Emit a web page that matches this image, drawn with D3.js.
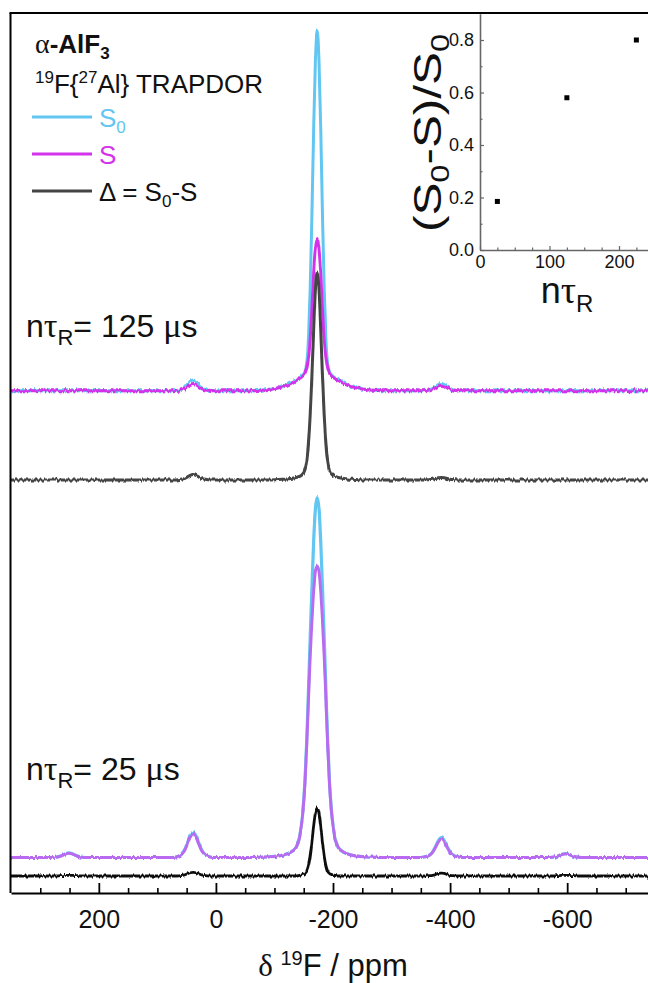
<!DOCTYPE html>
<html><head><meta charset="utf-8">
<script src="https://cdn.jsdelivr.net/npm/d3@7"></script>
<style>
body{margin:0;background:#fff}
svg{display:block}
text{font-family:"Liberation Sans",Arial,sans-serif;fill:#111}
</style>
</head><body>
<svg id="c" width="648" height="983"></svg>
<script>
// ---------------- data ----------------
// chemical shift grid, ppm
const ppm = [350,300,
 287,279,272,266,261,256,251,246,241,236,230,223,215,
 150,
 75,67,60,54,49,44,39,34,29,24,18,11,3,
 -40,
 -63,-93,-115,-128,-137,-143,-148,-152,-155,-158,-161,-164,-167,-170,-173,-176,-179,-182,-185,-188,-191,-194,-198,-203,-209,-218,-231,-253,-283,
 -320,
 -349,-357,-364,-370,-375,-380,-385,-390,-395,-400,-406,-413,-421,
 -500,
 -561,-569,-576,-582,-587,-592,-597,-602,-607,-612,-618,-625,-633,
 -700,-750];

// n·tauR = 125 us  (intensity, S0 peak = 1)
const s0_125 = [0,0,
 0,0,0,0,0,0,0,0,0,0,0,0,0,
 0,
 0,.001,.003,.008,.017,.026,.03,.026,.017,.008,.003,.001,0,
 0,
 0,.004,.012,.022,.030,.036,.043,.053,.072,.14,.28,.49,.73,.92,1,.92,.73,.49,.28,.14,.072,.053,.043,.036,.030,.022,.012,.004,0,
 0,
 0,.001,.002,.006,.011,.017,.02,.017,.011,.006,.002,.001,0,
 0,
 0,0,0,0,0,0,0,0,0,0,0,0,0,
 0,0];
const s_125 = [0,0,
 0,0,0,0,0,0,0,0,0,0,0,0,0,
 0,
 0,.001,.002,.006,.011,.017,.02,.017,.011,.006,.002,.001,0,
 0,
 0,.004,.011,.020,.028,.034,.040,.048,.062,.09,.14,.23,.33,.395,.42,.395,.33,.23,.14,.09,.062,.048,.040,.034,.028,.020,.011,.004,0,
 0,
 0,0,.002,.004,.008,.013,.015,.013,.008,.004,.002,0,0,
 0,
 0,0,0,0,0,0,0,0,0,0,0,0,0,
 0,0];
const d_125 = [0,0,
 0,0,0,0,0,0,0,0,0,0,0,0,0,
 0,
 0,0,.002,.004,.008,.013,.015,.013,.008,.004,.002,0,0,
 0,
 0,0,.002,.004,.007,.01,.016,.028,.05,.10,.18,.29,.42,.53,.578,.53,.42,.29,.18,.10,.05,.028,.016,.01,.007,.004,.002,0,0,
 0,
 0,0,.001,.002,.004,.006,.007,.006,.004,.002,.001,0,0,
 0,
 0,0,0,0,0,0,0,0,0,0,0,0,0,
 0,0];

// n·tauR = 25 us
const s0_25 = [0,0,
 0,0,.001,.004,.007,.011,.013,.011,.007,.004,.001,0,0,
 0,
 0,.002,.007,.02,.039,.06,.07,.06,.039,.02,.007,.002,0,
 0,
 0,.002,.007,.015,.028,.058,.12,.21,.32,.46,.61,.75,.88,.97,1,.97,.88,.75,.61,.46,.32,.21,.12,.058,.028,.015,.007,.002,0,
 0,
 0,.002,.006,.015,.03,.047,.055,.047,.03,.015,.006,.002,0,
 0,
 0,0,.001,.003,.006,.009,.011,.009,.006,.003,.001,0,0,
 0,0];
const s_25 = [0,0,
 0,0,.001,.003,.007,.01,.012,.01,.007,.003,.001,0,0,
 0,
 0,.002,.007,.018,.036,.056,.066,.056,.036,.018,.007,.002,0,
 0,
 0,.002,.007,.015,.028,.056,.116,.203,.307,.432,.555,.655,.74,.795,.81,.795,.74,.655,.555,.432,.307,.203,.116,.056,.028,.015,.007,.002,0,
 0,
 0,.002,.005,.014,.028,.043,.051,.043,.028,.014,.005,.002,0,
 0,
 0,0,.001,.003,.006,.009,.01,.009,.006,.003,.001,0,0,
 0,0];
const d_25 = [0,0,
 0,0,0,.001,.001,.002,.002,.002,.001,.001,0,0,0,
 0,
 0,0,.001,.003,.006,.009,.01,.009,.006,.003,.001,0,0,
 0,
 0,0,0,0,0,.002,.004,.007,.013,.028,.055,.095,.14,.175,.19,.175,.14,.095,.055,.028,.013,.007,.004,.002,0,0,0,0,0,
 0,
 0,0,.001,.002,.004,.007,.008,.007,.004,.002,.001,0,0,
 0,
 0,0,0,.001,.001,.002,.002,.002,.001,.001,0,0,0,
 0,0];

// main axis ticks
const xMajorTicks = [200, 0, -200, -400, -600];
const xMinorTicks = [300,250,150,100,50,-50,-100,-150,-250,-300,-350,-450,-500,-550,-650,-700];

// inset: TRAPDOR fraction vs recoupling time
const insetTau = [25, 125, 225];
const insetFrac = [0.185, 0.58, 0.80];
const insetXTicks = [0, 100, 200];
const insetXMinor = [25, 50, 75, 125, 150, 175, 225];
const insetYTicks = [0, 0.2, 0.4, 0.6, 0.8];
const insetYMinor = [0.1, 0.3, 0.5, 0.7];

// ---------------- drawing ----------------
const svg = d3.select("#c");
const BLUE = "#62C6F2", MAG = "#D333EA", LAV = "#B96BF0", GRAY = "#444", BLK = "#111";
const SANS = '"Liberation Sans",Arial,sans-serif';
const SERIF = '"Liberation Serif","DejaVu Serif",serif';

// line-texture filters (visual jitter of the recorded traces)
const defs = svg.append("defs");
[["jit1", 3, 5], ["jit2", 11, 5], ["jit3", 23, 5], ["jit4", 31, 3.5]].forEach(([id, seed, sc]) => {
  const f = defs.append("filter").attr("id", id).attr("filterUnits", "userSpaceOnUse")
    .attr("x", 0).attr("y", 0).attr("width", 660).attr("height", 983);
  f.append("feTurbulence").attr("type", "fractalNoise").attr("baseFrequency", "0.45 0.04")
    .attr("numOctaves", 2).attr("seed", seed).attr("result", "t");
  f.append("feColorMatrix").attr("in", "t").attr("type", "matrix")
    .attr("values", "0 0 0 0 0.5  1 0 0 0 0  0 0 0 0 0  0 0 0 0 1").attr("result", "m");
  f.append("feDisplacementMap").attr("in", "SourceGraphic").attr("in2", "m")
    .attr("scale", sc).attr("xChannelSelector", "R").attr("yChannelSelector", "G");
});

const x = d3.scaleLinear().domain([350, -750]).range([11, 655]);
const UNIT = 360;

const traces = [
  {v: s0_125, base: 390.7, color: BLUE, w: 3.0, f: "jit1"},
  {v: s_125,  base: 390.7, color: MAG,  w: 2.9, f: "jit2"},
  {v: d_125,  base: 480,   color: GRAY, w: 3.0, f: "jit3"},
  {v: s0_25,  base: 857.5, color: BLUE, w: 3.2, f: "jit4"},
  {v: s_25,   base: 857.5, color: LAV,  w: 2.9, f: "jit4"},
  {v: d_25,   base: 876,   color: BLK,  w: 2.8, f: "jit3"}
];
const gLines = svg.append("g");
traces.forEach(t => {
  const y = d3.scaleLinear().domain([0, 1]).range([t.base, t.base - UNIT]);
  const line = d3.line().x((d, i) => x(ppm[i])).y(d => y(d)).curve(d3.curveMonotoneX);
  gLines.append("path").datum(t.v).attr("d", line)
    .attr("fill", "none").attr("stroke", t.color).attr("stroke-width", t.w)
    .attr("stroke-linejoin", "round").attr("filter", `url(#${t.f})`);
});

// frame
const AX_Y = 893, TOP_Y = 13;
svg.append("line").attr("x1", 10.5).attr("x2", 10.5).attr("y1", TOP_Y).attr("y2", AX_Y)
  .attr("stroke", "#000").attr("stroke-width", 2);
svg.append("line").attr("x1", 9.5).attr("x2", 660).attr("y1", TOP_Y).attr("y2", TOP_Y)
  .attr("stroke", "#000").attr("stroke-width", 2);

// bottom axis
const gx = svg.append("g").attr("transform", `translate(0,${AX_Y})`);
gx.call(d3.axisBottom(x).tickValues(xMajorTicks).tickSize(-10).tickSizeOuter(0).tickPadding(17)
  .tickFormat(d => String(d)));
gx.select(".domain").attr("stroke", "#000").attr("stroke-width", 2);
gx.selectAll(".tick line").attr("stroke", "#000").attr("stroke-width", 1.8);
gx.selectAll(".tick text").attr("font-size", 25).attr("font-family", SANS).attr("fill", "#111");
const gxm = svg.append("g").attr("transform", `translate(0,${AX_Y})`);
gxm.call(d3.axisBottom(x).tickValues(xMinorTicks).tickSize(-5).tickSizeOuter(0).tickFormat(""));
gxm.select(".domain").remove();
gxm.selectAll(".tick line").attr("stroke", "#000").attr("stroke-width", 1.6);

// x-axis title
const xt = svg.append("text").attr("x", 333).attr("y", 976).attr("text-anchor", "middle")
  .attr("font-size", 31);
xt.append("tspan").attr("font-family", SERIF).text("δ ");
xt.append("tspan").attr("font-size", 20).attr("dy", -11).text("19");
xt.append("tspan").attr("dy", 11).text("F / ppm");

// title texts
const t1 = svg.append("text").attr("x", 35).attr("y", 53).attr("font-size", 26);
t1.append("tspan").attr("font-family", SERIF).attr("font-size", 28).text("α");
t1.append("tspan").attr("font-weight", "bold").text("-AlF");
t1.append("tspan").attr("font-weight", "bold").attr("font-size", 17).attr("dy", 6).text("3");

const t2 = svg.append("text").attr("x", 35).attr("y", 93).attr("font-size", 26);
t2.append("tspan").attr("font-size", 17).attr("dy", -10).text("19");
t2.append("tspan").attr("dy", 10).text("F{");
t2.append("tspan").attr("font-size", 17).attr("dy", -10).text("27");
t2.append("tspan").attr("dy", 10).text("Al} TRAPDOR");

// legend
const legend = [
  {y: 117, color: BLUE, parts: [["S", 0], ["0", 1]], tcolor: BLUE},
  {y: 154, color: MAG, parts: [["S", 0]], tcolor: MAG},
  {y: 191, color: GRAY, parts: [["Δ = S", 0], ["0", 1], ["-S", -1]], tcolor: "#111"}
];
legend.forEach(l => {
  svg.append("line").attr("x1", 32).attr("x2", 92).attr("y1", l.y).attr("y2", l.y)
    .attr("stroke", l.color).attr("stroke-width", 3);
  const t = svg.append("text").attr("x", 99).attr("y", l.y + 10).attr("font-size", 26)
    .style("fill", l.tcolor);
  l.parts.forEach(p => {
    const ts = t.append("tspan").text(p[0]);
    if (p[1] === 1) ts.attr("font-size", 17).attr("dy", 6);
    if (p[1] === -1) ts.attr("dy", -6);
  });
});

// n tauR labels
function tauLabel(yb, val) {
  const t = svg.append("text").attr("x", 26).attr("y", yb).attr("font-size", 32);
  t.append("tspan").text("n");
  t.append("tspan").attr("font-family", SERIF).attr("font-size", 34).text("τ");
  t.append("tspan").attr("font-size", 22).attr("dy", 8).text("R");
  t.append("tspan").attr("dy", -8).text("= " + val + " ");
  t.append("tspan").attr("font-family", SERIF).attr("font-size", 34).text("μ");
  t.append("tspan").text("s");
}
tauLabel(337, "125");
tauLabel(780, "25");

// ---------------- inset ----------------
const ix = d3.scaleLinear().domain([0, 250]).range([480, 653.75]);
const iy = d3.scaleLinear().domain([0, 0.9]).range([250, 13.75]);
const IG = "#666";
const gi = svg.append("g");
const gix = gi.append("g").attr("transform", "translate(0,250)");
gix.call(d3.axisBottom(ix).tickValues(insetXTicks).tickSize(-4).tickSizeOuter(0).tickPadding(5));
const gixm = gi.append("g").attr("transform", "translate(0,250)");
gixm.call(d3.axisBottom(ix).tickValues(insetXMinor).tickSize(-2.5).tickSizeOuter(0).tickFormat(""));
gixm.select(".domain").remove();
const giy = gi.append("g").attr("transform", "translate(480,0)");
giy.call(d3.axisLeft(iy).tickValues(insetYTicks).tickFormat(d3.format(".1f")).tickSize(-4).tickSizeOuter(0).tickPadding(6));
const giym = gi.append("g").attr("transform", "translate(480,0)");
giym.call(d3.axisLeft(iy).tickValues(insetYMinor).tickSize(-2.5).tickSizeOuter(0).tickFormat(""));
giym.select(".domain").remove();
gi.selectAll(".domain").attr("stroke", IG).attr("stroke-width", 1.6);
gi.selectAll(".tick line").attr("stroke", IG).attr("stroke-width", 1.2);
gi.selectAll(".tick text").attr("font-size", 18).attr("font-family", SANS).attr("fill", "#222");

gi.selectAll("rect.pt").data(insetTau).enter().append("rect").attr("class", "pt")
  .attr("x", (d) => ix(d) - 2.5).attr("y", (d, i) => iy(insetFrac[i]) - 2.5)
  .attr("width", 5).attr("height", 5).attr("fill", "#000");

// inset y label (rotated, stretched along its length as in the original)
const yl = svg.append("text").attr("transform", "translate(441,133) rotate(-90) scale(1.3,1)")
  .attr("text-anchor", "middle").attr("font-size", 38);
yl.append("tspan").text("(S");
yl.append("tspan").attr("font-size", 25).attr("dy", 8).text("0");
yl.append("tspan").attr("dy", -8).text("-S)/S");
yl.append("tspan").attr("font-size", 25).attr("dy", 8).text("0");

// inset x label
const xl = svg.append("text").attr("x", 567).attr("y", 303).attr("text-anchor", "middle").attr("font-size", 36);
xl.append("tspan").text("n");
xl.append("tspan").attr("font-family", SERIF).attr("font-size", 38).text("τ");
xl.append("tspan").attr("font-size", 24).attr("dy", 9).text("R");
</script>
</body></html>
